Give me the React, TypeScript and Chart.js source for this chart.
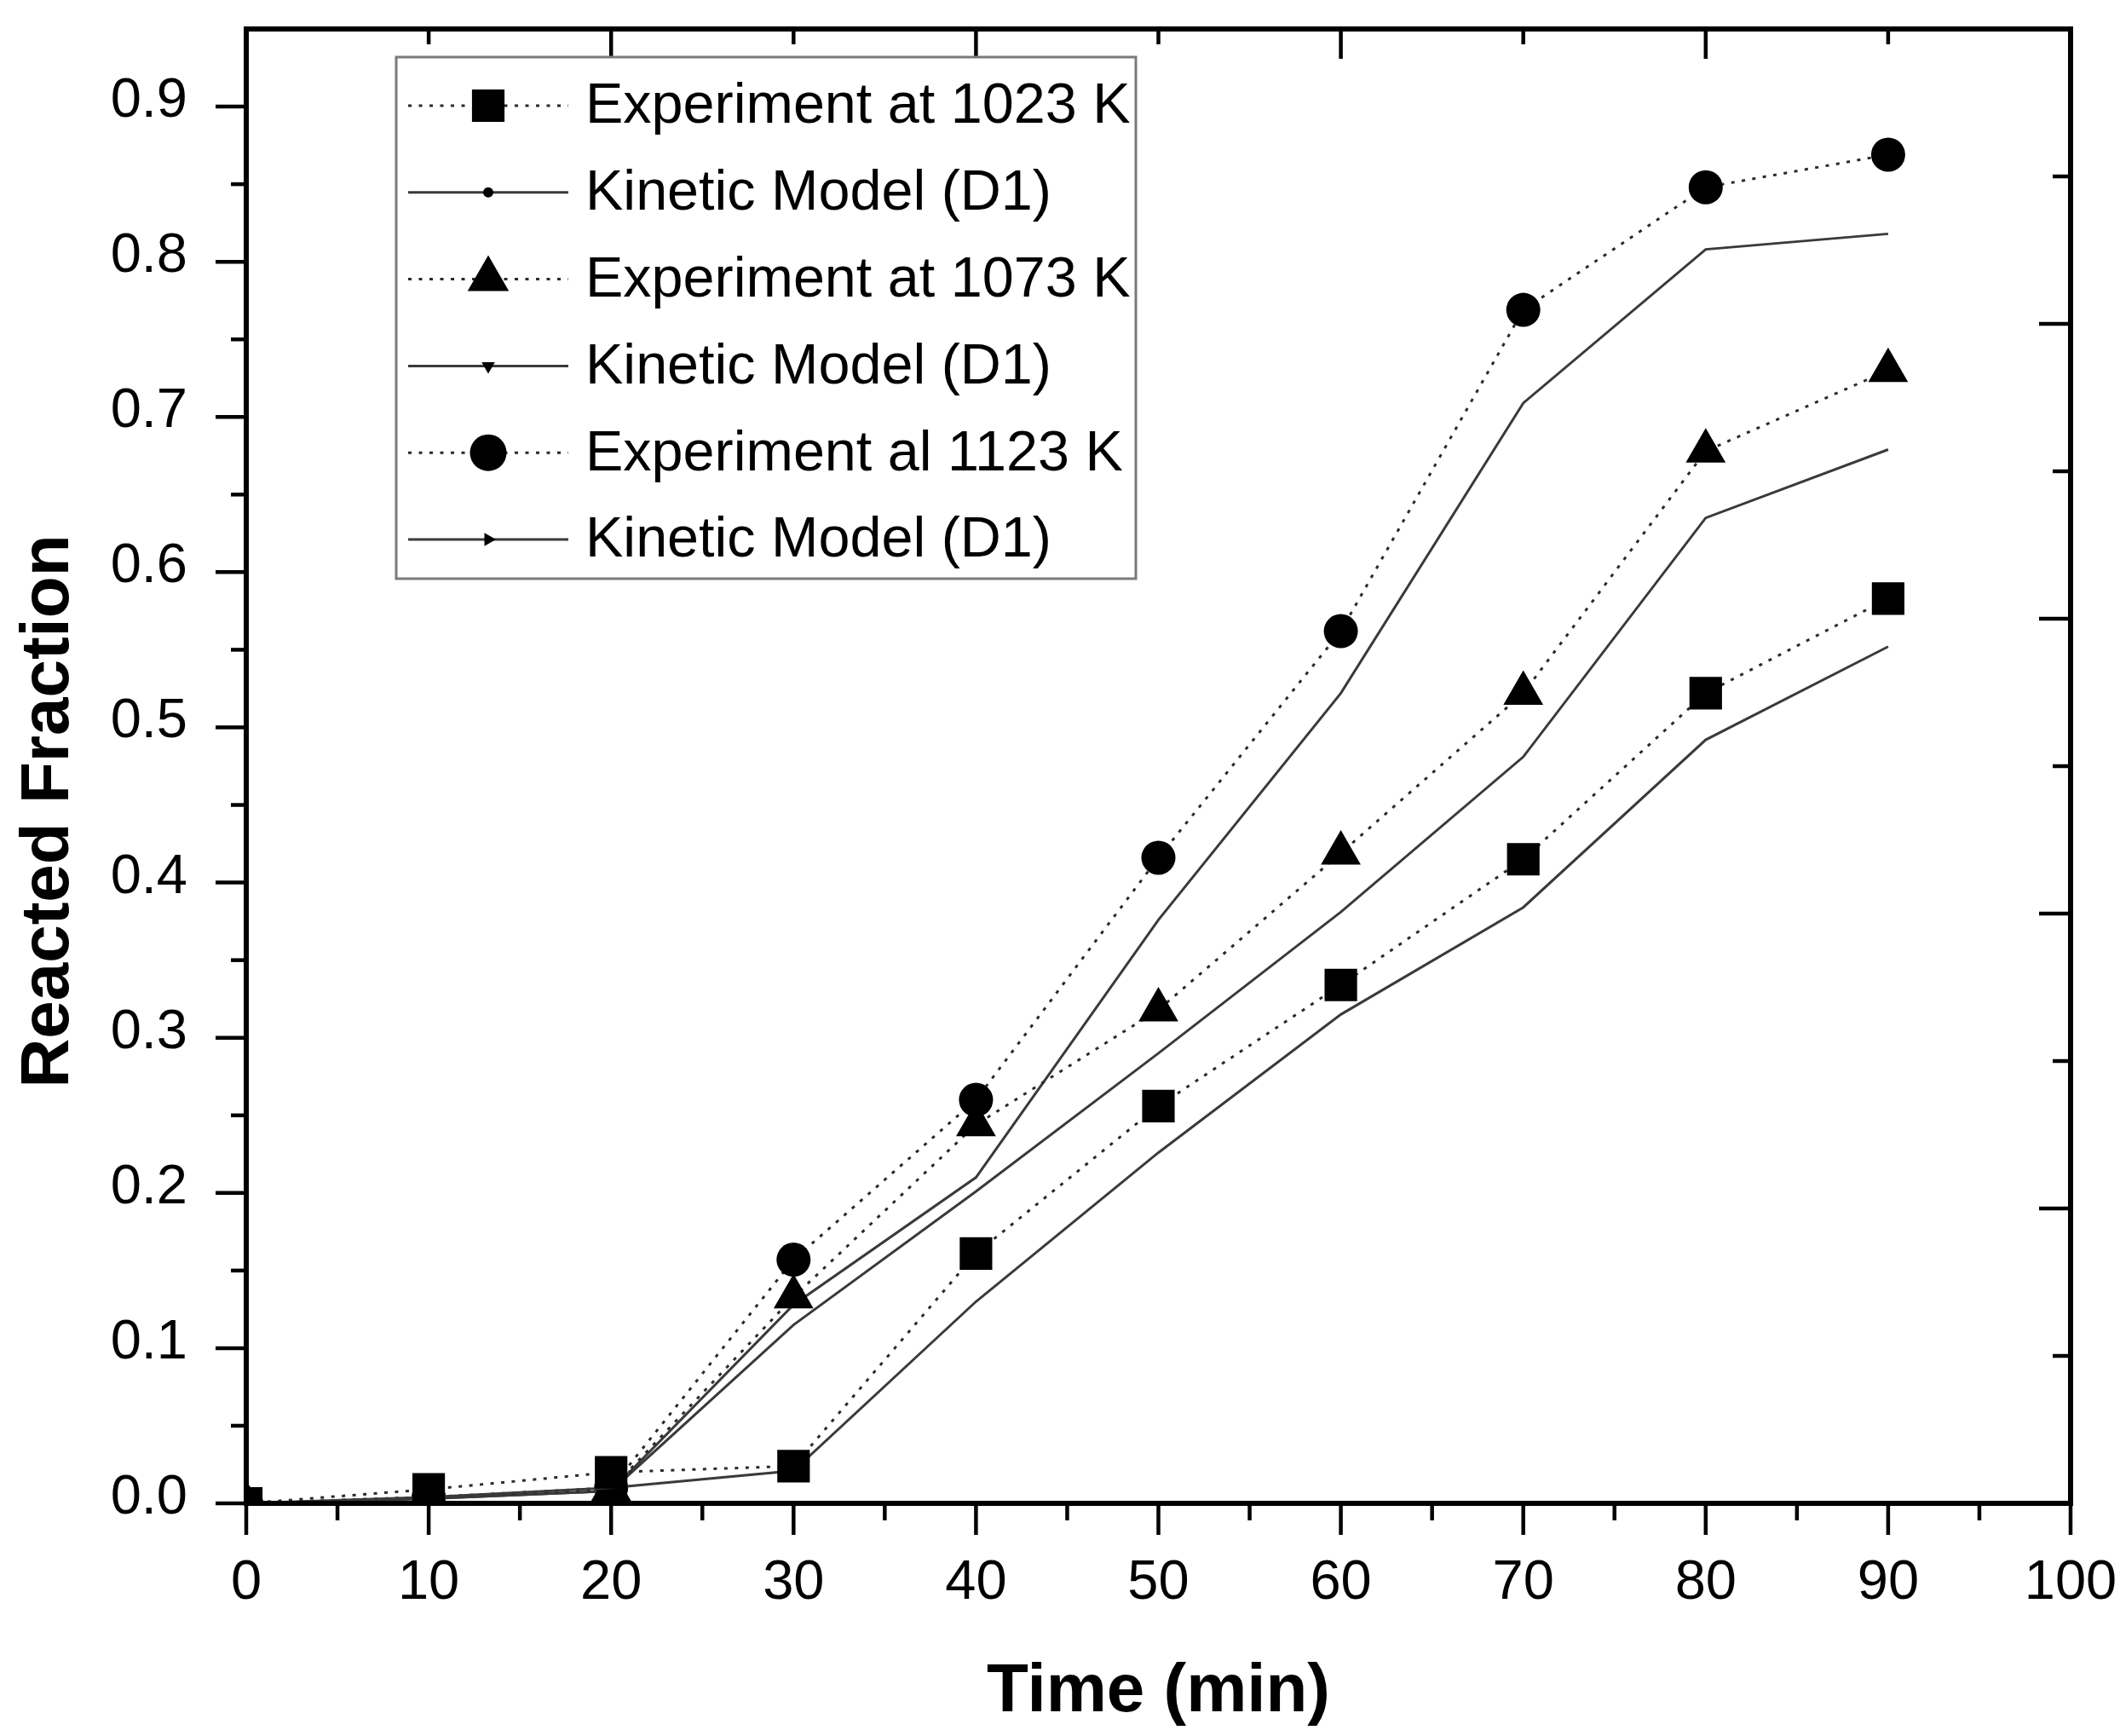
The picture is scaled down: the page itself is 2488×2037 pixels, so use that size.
import React, { useEffect, useRef } from "react";
import { Chart, registerables } from "chart.js";
import { drawPoint } from "chart.js/helpers";

Chart.register(...registerables);

// ---- data ----
const TIMES = [0, 10, 20, 30, 40, 50, 60, 70, 80, 90];
const EXP_1023 = [0, 0.009, 0.020, 0.024, 0.161, 0.256, 0.334, 0.415, 0.522, 0.583];
const MODEL_1023 = [0, 0.004, 0.010, 0.021, 0.130, 0.226, 0.315, 0.384, 0.492, 0.552];
const EXP_1073 = [0, 0.004, 0.009, 0.133, 0.244, 0.318, 0.419, 0.522, 0.678, 0.730];
const MODEL_1073 = [0, 0.003, 0.008, 0.115, 0.201, 0.290, 0.381, 0.481, 0.635, 0.679];
const EXP_1123 = [0, 0.004, 0.010, 0.157, 0.260, 0.416, 0.562, 0.769, 0.848, 0.869];
const MODEL_1123 = [0, 0.003, 0.008, 0.128, 0.210, 0.376, 0.522, 0.709, 0.808, 0.818];
const SERIES_LABELS = [
  "Experiment at 1023 K",
  "Kinetic Model (D1)",
  "Experiment at 1073 K",
  "Kinetic Model (D1)",
  "Experiment al 1123 K",
  "Kinetic Model (D1)",
];
const X_TITLE = "Time (min)";
const Y_TITLE = "Reacted Fraction";
const X_MIN = 0;
const X_MAX = 100;
const Y_MIN = 0;
const Y_MAX = 0.95;
// mirrored (unlabelled) right axis: 0..1 over the plot height, major 0.2, minor 0.1
const RIGHT_AXIS_STEPS = 10;
// mirrored (unlabelled) top axis: major every 20, minor every 10
const TOP_AXIS_STEP = 10;

const FONT = '"Liberation Sans", Arial, Helvetica, sans-serif';

const pts = (ys: number[]) => TIMES.map((t, i) => ({ x: t, y: ys[i] }));

const expStyle = (pointStyle: string, radius: number, legendRadius: number) => ({
  borderColor: "#2a2a2a",
  borderWidth: 3,
  borderDash: [4, 8.5],
  pointStyle,
  pointRadius: radius,
  pointBackgroundColor: "#000",
  pointBorderWidth: 0,
  legendMarker: { style: pointStyle, radius: legendRadius, rotation: 0 },
  legendDash: [4, 8.5],
});

const modelStyle = (pointStyle: string, legendRadius: number, rotation: number) => ({
  borderColor: "#3a3a3a",
  borderWidth: 3,
  pointRadius: 0,
  legendMarker: { style: pointStyle, radius: legendRadius, rotation },
  legendDash: [],
});

const zeroPadding = (s: any) => {
  s.paddingTop = 0;
  s.paddingBottom = 0;
  s.paddingLeft = 0;
  s.paddingRight = 0;
};

const decorPlugin = {
  id: "decor",
  afterDraw(chart: any) {
    const { ctx, chartArea: a, scales } = chart;
    const xs = scales.x;
    const ys = scales.y;
    ctx.save();
    ctx.strokeStyle = "#000";
    ctx.lineCap = "butt";
    const line = (x1: number, y1: number, xb: number, yb: number) => {
      ctx.beginPath();
      ctx.moveTo(x1, y1);
      ctx.lineTo(xb, yb);
      ctx.stroke();
    };
    ctx.lineWidth = 4.5;
    // bottom ticks (outward), major 10, minor 5
    for (let v = X_MIN; v <= X_MAX; v += 5) {
      const px = xs.getPixelForValue(v);
      const major = v % 10 === 0;
      line(px, a.bottom, px, a.bottom + (major ? 37 : 20));
    }
    // left ticks (outward), major 0.1, minor 0.05
    for (let k = 0; k <= 18; k++) {
      const py = ys.getPixelForValue(k * 0.05);
      const major = k % 2 === 0;
      line(a.left - (major ? 36 : 18), py, a.left, py);
    }
    // top ticks (inward)
    for (let v = X_MIN + TOP_AXIS_STEP; v < X_MAX; v += TOP_AXIS_STEP) {
      const px = xs.getPixelForValue(v);
      const major = v % 20 === 0;
      line(px, a.top, px, a.top + (major ? 35 : 18));
    }
    // right ticks (inward)
    for (let k = 1; k < RIGHT_AXIS_STEPS; k++) {
      const py = a.bottom - ((a.bottom - a.top) * k) / RIGHT_AXIS_STEPS;
      const major = k % 2 === 0;
      line(a.right - (major ? 37 : 21), py, a.right, py);
    }
    // frame
    ctx.lineWidth = 6;
    ctx.strokeRect(a.left, a.top, a.right - a.left, a.bottom - a.top);

    // axis titles
    ctx.fillStyle = "#000";
    ctx.font = `bold 80px ${FONT}`;
    ctx.textAlign = "center";
    ctx.textBaseline = "alphabetic";
    ctx.fillText(X_TITLE, (a.left + a.right) / 2, 2008);
    ctx.save();
    ctx.translate(80, 952);
    ctx.rotate(-Math.PI / 2);
    ctx.fillText(Y_TITLE, 0, 0);
    ctx.restore();

    // legend box
    const bx = 465, by = 67, bw = 868, bh = 612;
    ctx.fillStyle = "#fff";
    ctx.fillRect(bx, by, bw, bh);
    ctx.strokeStyle = "#7a7a7a";
    ctx.lineWidth = 3;
    ctx.strokeRect(bx, by, bw, bh);
    const rowH = 101.8;
    chart.data.datasets.forEach((ds: any, i: number) => {
      const cy = 124 + i * rowH;
      ctx.save();
      ctx.strokeStyle = ds.borderColor;
      ctx.lineWidth = 3;
      ctx.setLineDash(ds.legendDash || []);
      line(479, cy, 667, cy);
      ctx.restore();
      ctx.save();
      ctx.fillStyle = "#000";
      ctx.strokeStyle = "#000";
      const m = ds.legendMarker;
      drawPoint(ctx, { pointStyle: m.style, radius: m.radius, rotation: m.rotation, borderWidth: 0 }, 573, cy);
      ctx.restore();
      ctx.fillStyle = "#000";
      ctx.font = `66.5px ${FONT}`;
      ctx.textAlign = "left";
      ctx.textBaseline = "middle";
      ctx.fillText(ds.label, 687, cy + 2);
    });
    ctx.restore();
  },
};

export default function App() {
  const canvasRef = useRef<HTMLCanvasElement | null>(null);

  useEffect(() => {
    document.body.style.margin = "0";
    const canvas = canvasRef.current;
    if (!canvas) return;
    const chart = new Chart(canvas, {
      type: "line",
      data: {
        datasets: [
          { label: SERIES_LABELS[0], data: pts(EXP_1023), ...expStyle("rect", 27, 27) },
          { label: SERIES_LABELS[1], data: pts(MODEL_1023), ...modelStyle("circle", 6, 0) },
          { label: SERIES_LABELS[2], data: pts(EXP_1073), ...expStyle("triangle", 27, 28) },
          { label: SERIES_LABELS[3], data: pts(MODEL_1073), ...modelStyle("triangle", 9, 180) },
          { label: SERIES_LABELS[4], data: pts(EXP_1123), ...expStyle("circle", 20, 21.5) },
          { label: SERIES_LABELS[5], data: pts(MODEL_1123), ...modelStyle("triangle", 9, 90) },
        ] as any,
      },
      options: {
        animation: false,
        responsive: true,
        maintainAspectRatio: false,
        devicePixelRatio: 1,
        clip: 0 as any,
        layout: { padding: { left: 0, top: 34, right: 58, bottom: 0 } },
        plugins: {
          legend: { display: false },
          tooltip: { enabled: false },
          title: { display: false },
        },
        elements: { line: { tension: 0 } },
        scales: {
          x: {
            type: "linear",
            position: "bottom",
            min: X_MIN,
            max: X_MAX,
            grid: { display: false },
            border: { display: false },
            ticks: {
              stepSize: 10,
              color: "#000",
              padding: 47,
              font: { family: FONT, size: 65 },
              maxRotation: 0,
              autoSkip: false,
            },
            afterFit: (s: any) => {
              s.height = 273;
              zeroPadding(s);
            },
          },
          y: {
            type: "linear",
            position: "left",
            min: Y_MIN,
            max: Y_MAX,
            grid: { display: false },
            border: { display: false },
            ticks: {
              stepSize: 0.1,
              includeBounds: false,
              color: "#000",
              padding: 61,
              labelOffset: -6,
              font: { family: FONT, size: 65 },
              callback: (v: any) => Number(v).toFixed(1),
            },
            afterFit: (s: any) => {
              s.width = 289;
              zeroPadding(s);
            },
          },
        },
      } as any,
      plugins: [decorPlugin],
    });
    return () => chart.destroy();
  }, []);

  return (
    <div style={{ width: "2488px", height: "2037px", position: "relative", background: "#fff" }}>
      <canvas ref={canvasRef} />
    </div>
  );
}
